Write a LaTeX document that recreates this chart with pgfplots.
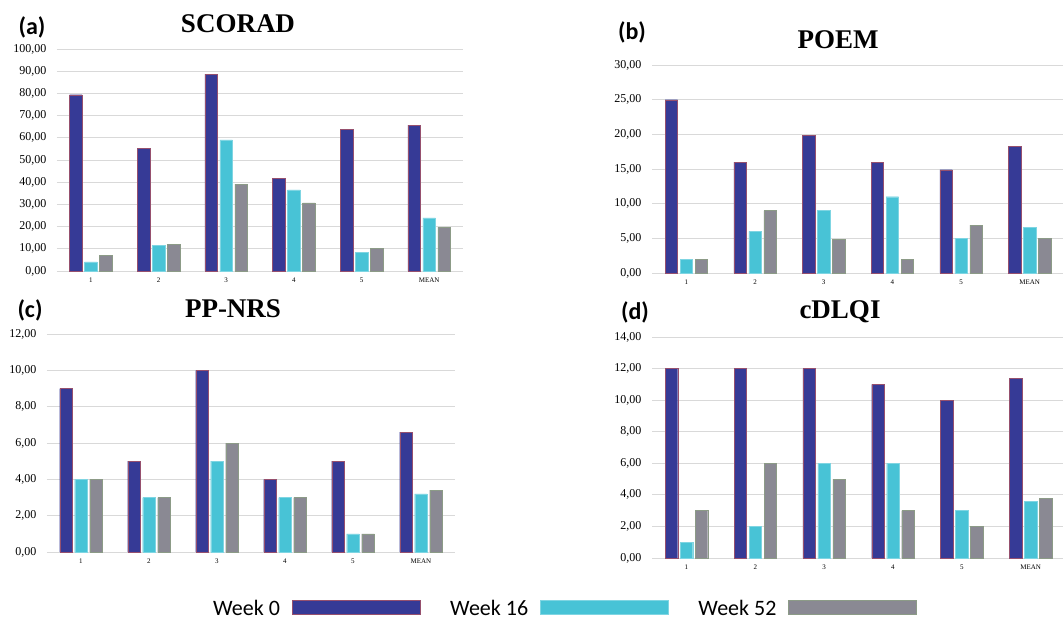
\documentclass[border=0pt]{standalone}
\usepackage{fontspec}
\setmainfont{Liberation Serif}
\newfontfamily\calibri{Carlito}
\usepackage{pgfplots}
\pgfplotsset{compat=1.18}
\definecolor{wk0}{HTML}{363A96}
\definecolor{wk16}{HTML}{48C3D6}
\definecolor{wk52}{HTML}{8A8993}
\definecolor{gridc}{HTML}{D9D9D9}
\pgfplotsset{
  panel/.style={
    scale only axis,
    ybar=2.5pt, bar width=12.5pt,
    xmin=-0.5, xmax=5.5, ymin=0,
    xtick={0,1,2,3,4,5},
    xticklabels={1,2,3,4,5,\raisebox{-4pt}{MEAN}},
    axis line style={draw=none},
    major tick length=0pt,
    ymajorgrids, grid style={gridc, line width=0.9pt},
    yticklabel={\pgfmathprintnumber[fixed,fixed zerofill,precision=2,use comma,assume math mode=true]{\tick}},
    yticklabel style={font=\rmfamily\fontsize{12}{14}\selectfont, xshift=-7pt},
    xticklabel style={font=\rmfamily\fontsize{7}{8}\selectfont, yshift=-3pt},
    clip=false,
  },
  w0/.style={fill=wk0, draw={rgb,255:red,150;green,80;blue,110}, line width=0.3pt},
  w16/.style={fill=wk16, draw=wk16!70!white, line width=0.3pt},
  w52/.style={fill=wk52, draw={rgb,255:red,140;green,155;blue,135}, line width=0.3pt},
}
\begin{document}
\begin{tikzpicture}[x=1pt,y=1pt]
\path[use as bounding box] (0,0) rectangle (1063,619);

% (a) SCORAD
\begin{axis}[panel, at={(57pt,348pt)}, anchor=south west, width=406pt, height=222pt,
  ymax=100, ytick={0,10,...,100}]
\addplot[w0] coordinates {(0,79.4) (1,55.2) (2,88.7) (3,41.7) (4,63.8) (5,65.7)};
\addplot[w16] coordinates {(0,4.1) (1,11.6) (2,59.1) (3,36.5) (4,8.3) (5,23.9)};
\addplot[w52] coordinates {(0,7.1) (1,11.9) (2,39.1) (3,30.7) (4,10.1) (5,19.8)};
\end{axis}

% (b) POEM
\begin{axis}[panel, at={(652pt,346pt)}, anchor=south west, width=412pt, height=208pt,
  ymax=30, ytick={0,5,...,30}]
\addplot[w0] coordinates {(0,25) (1,16) (2,19.9) (3,16) (4,14.9) (5,18.3)};
\addplot[w16] coordinates {(0,2) (1,6) (2,9) (3,11) (4,5) (5,6.6)};
\addplot[w52] coordinates {(0,2) (1,9) (2,4.9) (3,2) (4,6.9) (5,5)};
\end{axis}

% (c) PP-NRS
\begin{axis}[panel, at={(47pt,67pt)}, anchor=south west, width=408pt, height=218pt,
  ymax=12, ytick={0,2,...,12},
  legend columns=3, legend plot pos=right,
  legend image code/.code={\draw[#1] (0pt,-7pt) rectangle (128pt,7pt);},
  legend style={at={(1.267,-0.254)}, anchor=center, draw=none, fill=none,
    font=\calibri\fontsize{22}{26}\selectfont, inner sep=0pt,
    nodes={inner ysep=0pt, text depth=0pt},
    /tikz/every odd column/.append style={column sep=10pt},
    /tikz/every even column/.append style={column sep=28pt}}]
\addplot[w0] coordinates {(0,9) (1,5) (2,10) (3,4) (4,5) (5,6.6)};
\addplot[w16] coordinates {(0,4) (1,3) (2,5) (3,3) (4,1) (5,3.2)};
\addplot[w52] coordinates {(0,4) (1,3) (2,6) (3,3) (4,1) (5,3.4)};
\legend{Week 0, Week 16, Week 52}
\end{axis}

% (d) cDLQI
\begin{axis}[panel, at={(652pt,61pt)}, anchor=south west, width=413pt, height=221pt,
  ymax=14, ytick={0,2,...,14}]
\addplot[w0] coordinates {(0,12) (1,12) (2,12) (3,11) (4,10) (5,11.4)};
\addplot[w16] coordinates {(0,1) (1,2) (2,6) (3,6) (4,3) (5,3.6)};
\addplot[w52] coordinates {(0,3) (1,6) (2,5) (3,3) (4,2) (5,3.8)};
\end{axis}

% titles and panel letters
\node[font=\bfseries\fontsize{27}{30}\selectfont] at (238,595) {SCORAD};
\node[font=\bfseries\fontsize{27}{30}\selectfont] at (838,579) {POEM};
\node[font=\bfseries\fontsize{27}{30}\selectfont] at (233,310) {PP-NRS};
\node[font=\bfseries\fontsize{27}{30}\selectfont] at (840,307) {cDLQI};
\node[font=\calibri\bfseries\fontsize{24}{28}\selectfont] at (32,592) {(a)};
\node[font=\calibri\bfseries\fontsize{24}{28}\selectfont] at (632,587) {(b)};
\node[font=\calibri\bfseries\fontsize{24}{28}\selectfont] at (30,309) {(c)};
\node[font=\calibri\bfseries\fontsize{24}{28}\selectfont] at (635,307) {(d)};
\end{tikzpicture}
\end{document}
